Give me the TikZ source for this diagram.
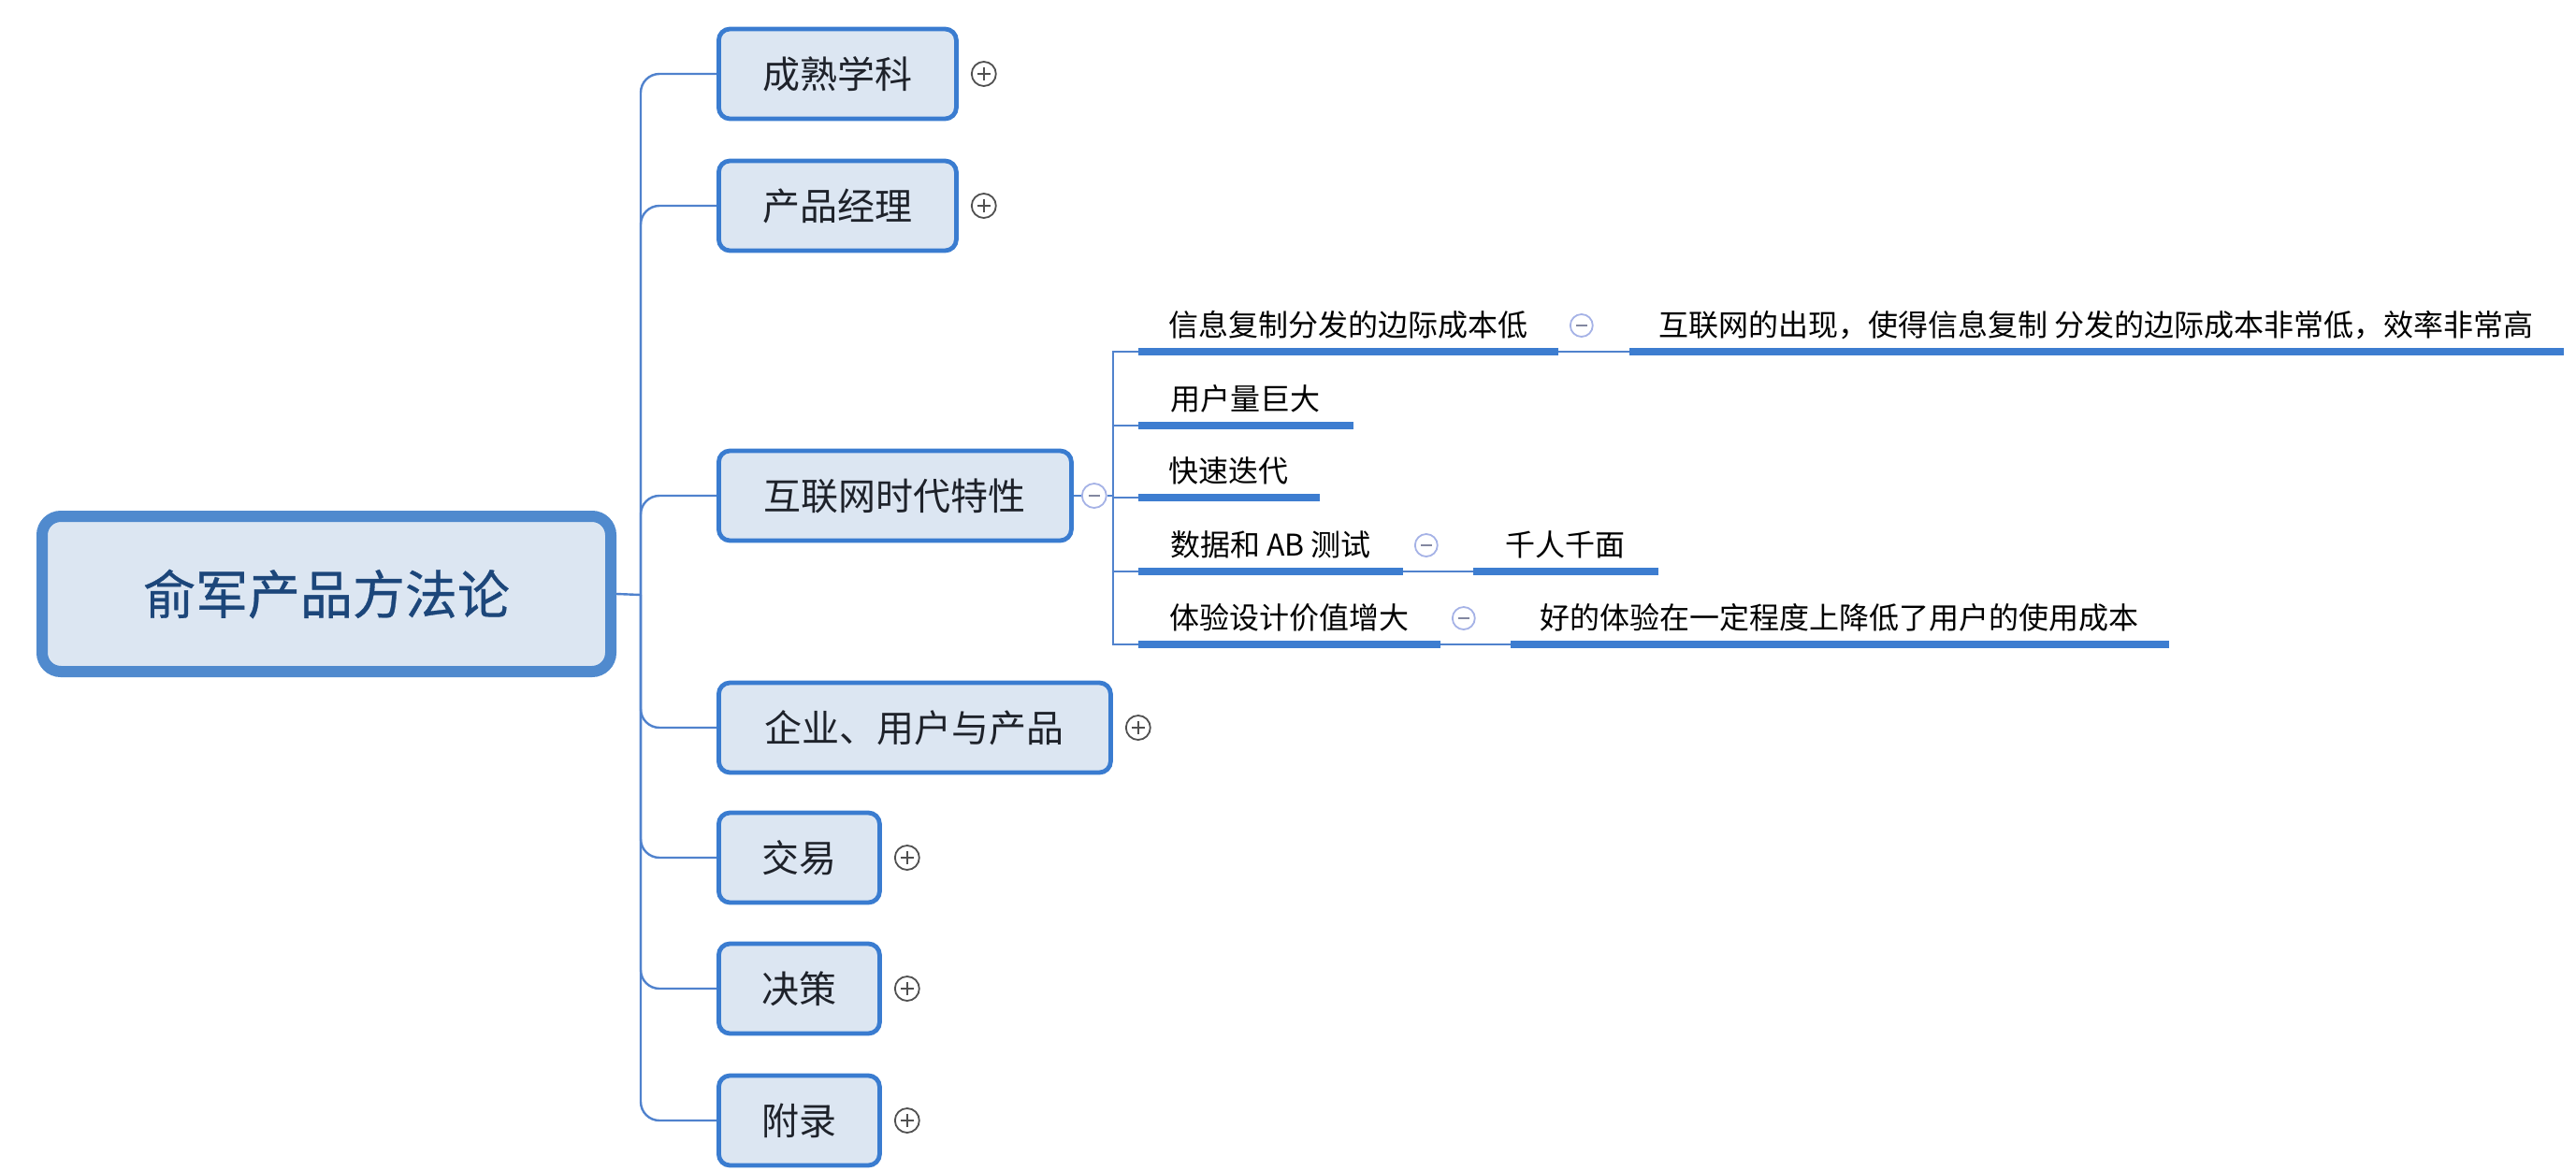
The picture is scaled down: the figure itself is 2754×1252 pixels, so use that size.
\documentclass[tikz,border=0pt]{standalone}
\usepackage{fontspec}
\setmainfont[AutoFakeBold=0.6]{Noto Sans CJK SC}
\definecolor{boxfill}{RGB}{220,230,242}
\definecolor{boxc}{RGB}{58,124,208}
\definecolor{rootc}{RGB}{80,138,206}
\definecolor{connc}{RGB}{80,130,205}
\definecolor{ulc}{RGB}{61,125,208}
\definecolor{roottext}{RGB}{28,70,122}
\definecolor{topictext}{RGB}{30,34,42}
\definecolor{plusc}{RGB}{80,80,80}
\definecolor{minusc}{RGB}{165,178,230}
\definecolor{minussign}{RGB}{130,135,160}
\begin{document}
\begin{tikzpicture}[x=0.5pt,y=-0.5pt,
  conn/.style={draw=connc, line width=1.2pt},
  uline/.style={draw=ulc, line width=3.6pt},
  rootbox/.style={draw=rootc, line width=6pt, fill=boxfill, rounded corners=10pt,
    minimum width=304pt, minimum height=83pt, inner sep=0pt,
    font=\fontsize{28}{34}\selectfont\bfseries, text=roottext},
  topic/.style={draw=boxc, line width=2.4pt, fill=boxfill, rounded corners=6pt,
    minimum height=48pt, inner sep=0pt, anchor=west,
    font=\fontsize{20}{24}\selectfont, text=topictext},
  sub/.style={anchor=south west, inner xsep=0pt, inner ysep=4pt,
    text height=12pt, text depth=4pt, minimum width=#1,
    font=\fontsize{16}{20}\selectfont, text=black},
  plusbtn/.style={circle, draw=plusc, line width=0.9pt, fill=white,
    minimum size=13pt, inner sep=0pt,
    path picture={\draw[plusc, line width=1pt]
      ([xshift=-3.5pt]path picture bounding box.center) -- ([xshift=3.5pt]path picture bounding box.center)
      ([yshift=-3.5pt]path picture bounding box.center) -- ([yshift=3.5pt]path picture bounding box.center);}},
  minusbtn/.style={circle, draw=minusc, line width=0.9pt, fill=white,
    minimum size=#1, inner sep=0pt,
    path picture={\draw[minussign, line width=0.9pt]
      ([xshift=-3pt]path picture bounding box.center) -- ([xshift=3pt]path picture bounding box.center);}},
  minusbtn/.default=13pt
]
\useasboundingbox (0,0) rectangle (2754,1252);

% root
\node[rootbox] (root) at (349,635) {俞军产品方法论};

% main topics
\node[topic, minimum width=127pt] (c1) at (766,79) {成熟学科};
\node[topic, minimum width=127pt] (c2) at (766,220) {产品经理};
\node[topic, minimum width=188.5pt] (c3) at (766,530) {互联网时代特性};
\node[topic, minimum width=209.5pt] (c4) at (766,778) {企业、用户与产品};
\node[topic, minimum width=86pt] (c5) at (766,917) {交易};
\node[topic, minimum width=86pt] (c6) at (766,1057) {决策};
\node[topic, minimum width=86pt] (c7) at (766,1198) {附录};

% expand buttons
\node[plusbtn] (p1) at ([xshift=13.5pt]c1.east) {};
\node[plusbtn] (p2) at ([xshift=13.5pt]c2.east) {};
\node[plusbtn] (p4) at ([xshift=13.5pt]c4.east) {};
\node[plusbtn] (p5) at ([xshift=13.5pt]c5.east) {};
\node[plusbtn] (p6) at ([xshift=13.5pt]c6.east) {};
\node[plusbtn] (p7) at ([xshift=13.5pt]c7.east) {};
\node[minusbtn] (m3) at ([xshift=11pt]c3.east) {};

% trunk connectors
\coordinate (tj) at (685,636);
\draw[conn] (root.east) -- (tj);
\foreach \c in {c1,c2,c3,c4,c5,c6,c7}
  \draw[conn, rounded corners=10pt] (tj) |- (\c.west);

% sub topics
\node[sub=224pt] (s1) at (1217,376) {信息复制分发的边际成本低};
\node[sub=114.5pt] (s2) at (1217,455) {用户量巨大};
\node[sub=96.5pt] (s3) at (1217,532) {快速迭代};
\node[sub=141pt] (s4) at (1217,611) {数据和 AB 测试};
\node[sub=161pt] (s5) at (1217,689) {体验设计价值增大};

\node[sub=499pt] (t1) at (1742,376) {互联网的出现，使得信息复制 分发的边际成本非常低，效率非常高};
\node[sub=98.5pt] (t4) at (1575,611) {千人千面};
\node[sub=351.5pt] (t5) at (1615,689) {好的体验在一定程度上降低了用户的使用成本};

% connectors of sub topics
\draw[conn] (c3.east) -- (m3.west);
\coordinate (sj) at (1190,530);
\draw[conn] (m3.east) -- (sj);
\foreach \s in {s1,s2,s3,s4,s5}
  \draw[conn] (sj) |- (\s.south west);
\draw[conn] (s1.south east) -- (t1.south west);
\draw[conn] (s4.south east) -- (t4.south west);
\draw[conn] (s5.south east) -- (t5.south west);

% underlines
\foreach \s in {s1,s2,s3,s4,s5,t1,t4,t5}
  \draw[uline] (\s.south west) -- (\s.south east);

% collapse buttons of sub topics
\node[minusbtn=12pt] (ms1) at ([xshift=12.5pt,yshift=14pt]s1.south east) {};
\node[minusbtn=12pt] (ms4) at ([xshift=12.5pt,yshift=14pt]s4.south east) {};
\node[minusbtn=12pt] (ms5) at ([xshift=12.5pt,yshift=14pt]s5.south east) {};
\end{tikzpicture}
\end{document}
